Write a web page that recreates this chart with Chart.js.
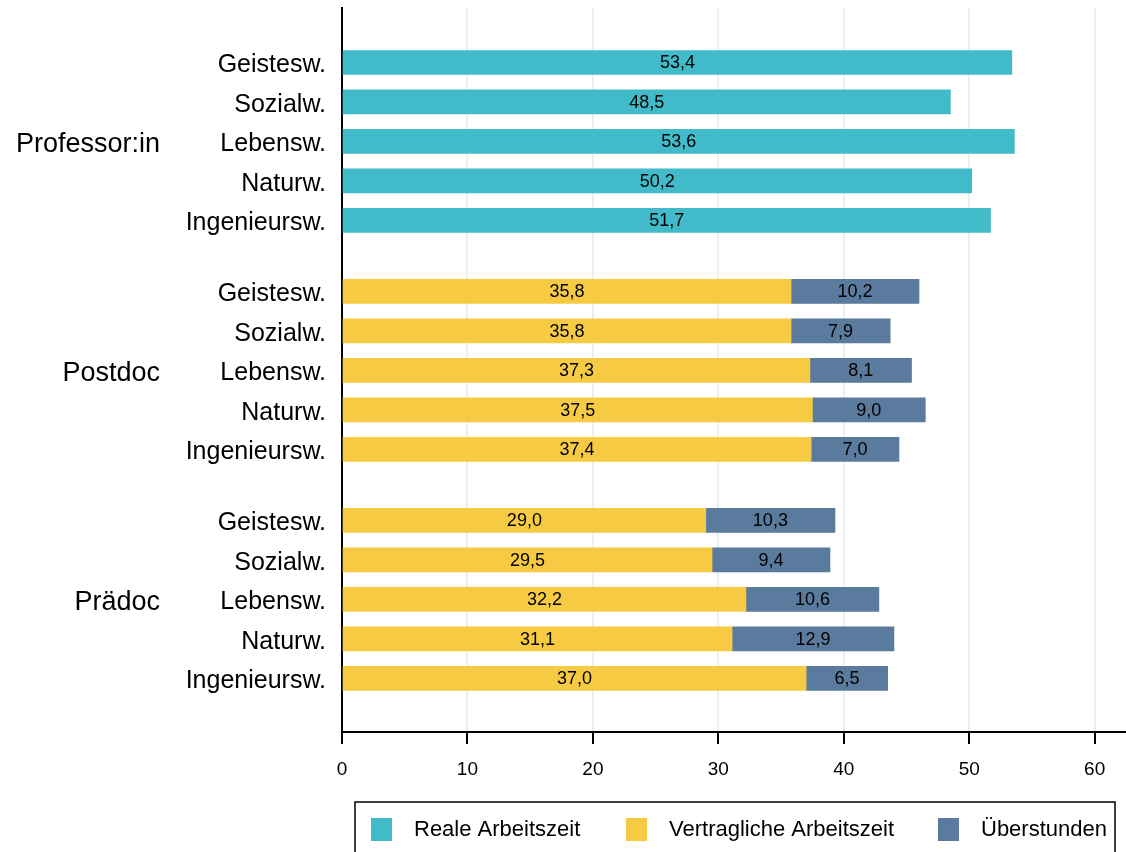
<!DOCTYPE html>
<html lang="de">
<head>
<meta charset="utf-8">
<title>Arbeitszeit nach Statusgruppe und Fachbereich</title>
<script src="https://cdn.jsdelivr.net/npm/chart.js@4/dist/chart.umd.min.js"></script>
<style>
  html, body { margin: 0; padding: 0; background: #ffffff; }
  #wrap { width: 1126px; height: 852px; position: relative; }
</style>
</head>
<body>
<div id="wrap"><canvas id="chart" width="1126" height="852"></canvas></div>
<script>
// Statusgruppen (top to bottom) and Fachbereiche within each group
const groups = ['Professor:in', 'Postdoc', 'Prädoc'];
const fields = ['Geistesw.', 'Sozialw.', 'Lebensw.', 'Naturw.', 'Ingenieursw.'];

// Weekly hours
const realProfessor = [53.4, 48.5, 53.6, 50.2, 51.7];
const contractPostdoc = [35.8, 35.8, 37.3, 37.5, 37.4];
const overtimePostdoc = [10.2, 7.9, 8.1, 9.0, 7.0];
const contractPraedoc = [29.0, 29.5, 32.2, 31.1, 37.0];
const overtimePraedoc = [10.3, 9.4, 10.6, 12.9, 6.5];

const xTicks = [0, 10, 20, 30, 40, 50, 60];
const seriesNames = ['Reale Arbeitszeit', 'Vertragliche Arbeitszeit', 'Überstunden'];
const seriesColors = ['#41bbc9', '#f6cb43', '#5a7a9e'];

// Row position on the y scale: five rows per group, extra gap between groups
const GROUP_STEP = 5.8;
const rowPos = (g, i) => g * GROUP_STEP + i;
const rowPositions = [];
const rowLabels = [];
groups.forEach((g, gi) => fields.forEach((f, fi) => { rowPositions.push(rowPos(gi, fi)); rowLabels.push(f); }));

const toPoints = (g, values) => values.map((v, i) => ({ x: v, y: rowPos(g, i) }));

const FONT = "'Liberation Sans', Arial, sans-serif";
const fmt = v => v.toFixed(1).replace('.', ',');

// Value labels centred in each bar segment
const valueLabels = {
  id: 'valueLabels',
  afterDatasetsDraw(chart) {
    const ctx = chart.ctx;
    ctx.save();
    ctx.font = '18px ' + FONT;
    ctx.fillStyle = '#000';
    ctx.textAlign = 'center';
    ctx.textBaseline = 'middle';
    chart.data.datasets.forEach((ds, di) => {
      const meta = chart.getDatasetMeta(di);
      meta.data.forEach((bar, i) => {
        const v = ds.data[i].x;
        if (v == null) return;
        const left = Math.min(bar.x, bar.base), right = Math.max(bar.x, bar.base);
        ctx.fillText(fmt(v), (left + right) / 2, bar.y + 1);
      });
    });
    ctx.restore();
  }
};

// Group names to the left of the field labels
const groupLabels = {
  id: 'groupLabels',
  afterDraw(chart) {
    const ctx = chart.ctx, y = chart.scales.y;
    ctx.save();
    ctx.font = '27px ' + FONT;
    ctx.fillStyle = '#000';
    ctx.textAlign = 'right';
    ctx.textBaseline = 'middle';
    groups.forEach((g, gi) => ctx.fillText(g, 160, y.getPixelForValue(rowPos(gi, 2)) + 3));
    ctx.restore();
  }
};

// Framed legend below the axis
const boxLegend = {
  id: 'boxLegend',
  afterDraw(chart) {
    const ctx = chart.ctx;
    ctx.save();
    ctx.strokeStyle = '#000';
    ctx.lineWidth = 1.5;
    ctx.strokeRect(355, 802, 760, 70);
    const swatchX = [371, 626, 938];
    ctx.font = '22px ' + FONT;
    ctx.textBaseline = 'middle';
    ctx.textAlign = 'left';
    seriesNames.forEach((name, i) => {
      ctx.fillStyle = seriesColors[i];
      ctx.fillRect(swatchX[i], 818, 21, 23);
      ctx.fillStyle = '#000';
      ctx.fillText(name, swatchX[i] + 43, 830);
    });
    ctx.restore();
  }
};

new Chart(document.getElementById('chart'), {
  type: 'bar',
  data: {
    datasets: [
      { label: seriesNames[0], data: toPoints(0, realProfessor), backgroundColor: seriesColors[0] },
      { label: seriesNames[1], data: [...toPoints(1, contractPostdoc), ...toPoints(2, contractPraedoc)], backgroundColor: seriesColors[1] },
      { label: seriesNames[2], data: [...toPoints(1, overtimePostdoc), ...toPoints(2, overtimePraedoc)], backgroundColor: seriesColors[2] }
    ]
  },
  options: {
    indexAxis: 'y',
    responsive: false,
    animation: false,
    barThickness: 24,
    layout: { padding: { top: 8, right: 0, bottom: 70, left: 0 } },
    plugins: { legend: { display: false }, tooltip: { enabled: false } },
    scales: {
      x: {
        type: 'linear',
        stacked: true,
        min: 0,
        max: 62.5,
        afterBuildTicks: s => { s.ticks = xTicks.map(v => ({ value: v })); },
        afterFit: s => { s.height = 50; s.paddingLeft = 0; s.paddingRight = 0; },
        grid: { color: '#e8f1f1', lineWidth: 2, tickColor: '#000', tickLength: 12, tickWidth: 2 },
        border: { color: '#000', width: 2 },
        ticks: { color: '#000', font: { family: FONT, size: 19 }, padding: 14 }
      },
      y: {
        type: 'linear',
        stacked: true,
        reverse: true,
        offset: false,
        min: -1.38,
        max: 2 * GROUP_STEP + 4 + 1.36,
        afterBuildTicks: s => { s.ticks = rowPositions.map(v => ({ value: v })); },
        afterFit: s => { s.width = 342; s.paddingTop = 0; s.paddingBottom = 0; },
        grid: { display: false, drawTicks: false },
        border: { color: '#000', width: 2 },
        ticks: {
          color: '#000',
          font: { family: FONT, size: 25 },
          padding: 16,
          labelOffset: 3,
          callback: (v, i) => rowLabels[i]
        }
      }
    }
  },
  plugins: [valueLabels, groupLabels, boxLegend]
});
</script>
</body>
</html>
